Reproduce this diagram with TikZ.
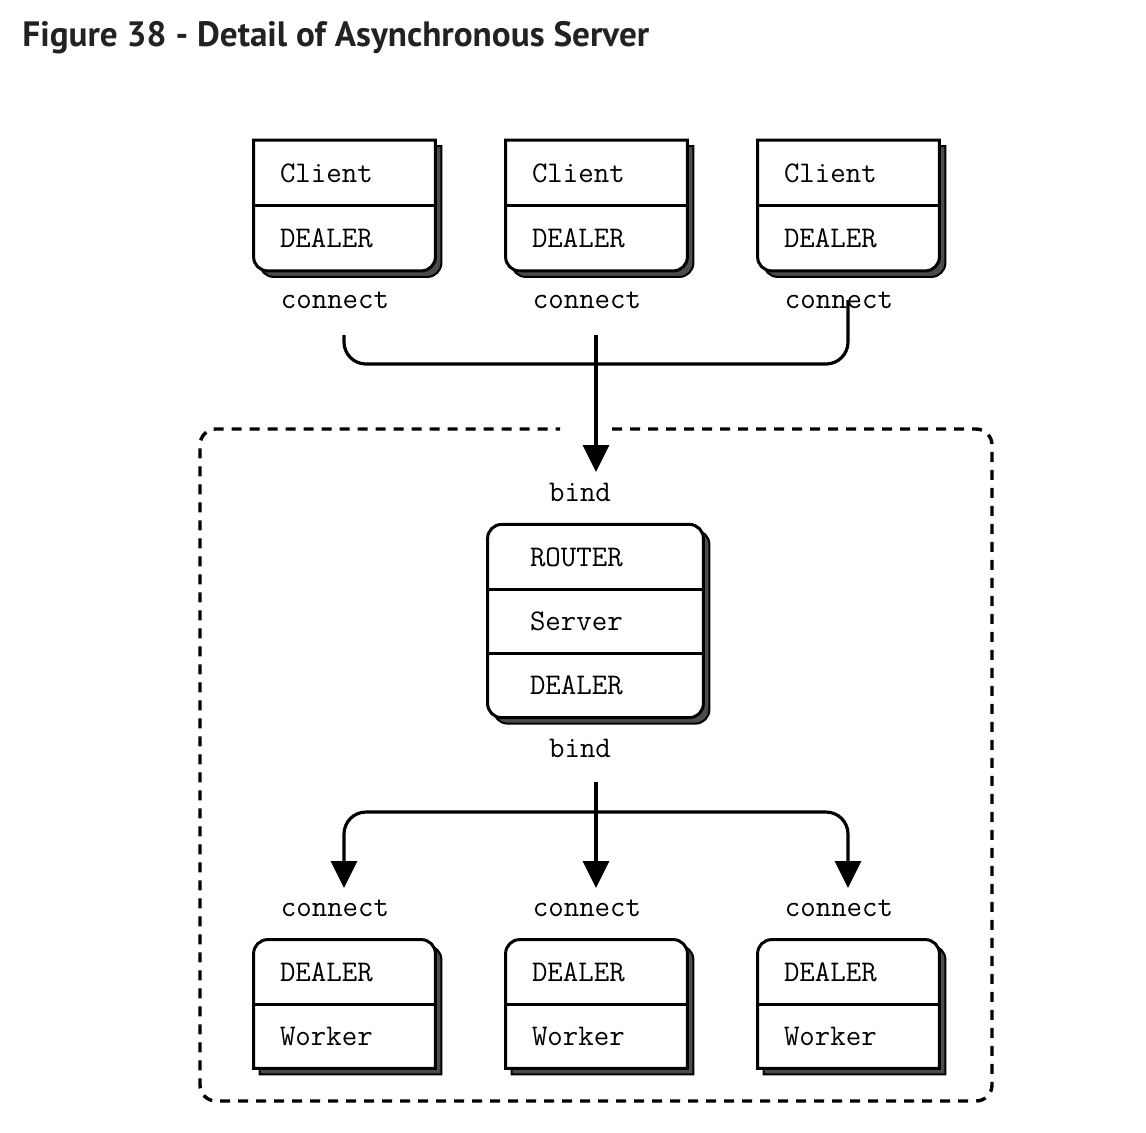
\documentclass[tikz,border=0pt]{standalone}
\usepackage{fontspec}
\usepackage{tikz}
\usetikzlibrary{positioning,arrows.meta,backgrounds}

\newfontfamily\titlefont{PT Sans}
\definecolor{titlegray}{HTML}{222222}

% box with rounded bottom corners (#1 top cell, #2 bottom cell)
\newcommand{\clientoutline}[3]{%
  \path[#3] (#1.north west) -- (#1.north east)
    -- ([yshift=7pt]#2.south east) arc[start angle=0, end angle=-90, radius=7pt]
    -- ([xshift=7pt]#2.south west) arc[start angle=270, end angle=180, radius=7pt]
    -- cycle;}
% box with rounded top corners (#1 top cell, #2 bottom cell)
\newcommand{\workeroutline}[3]{%
  \path[#3] (#2.south west) -- ([yshift=-7pt]#1.north west)
    arc[start angle=180, end angle=90, radius=7pt]
    -- ([xshift=-7pt]#1.north east) arc[start angle=90, end angle=0, radius=7pt]
    -- (#2.south east) -- cycle;}

\begin{document}
\begin{tikzpicture}[
    x=0.5pt, y=-0.5pt,
    cell/.style={minimum width=90.5pt, minimum height=32.5pt, text width=64.5pt,
      inner xsep=13pt, inner ysep=0pt, align=left, font=\ttfamily\fontsize{15}{18}\selectfont},
    servercell/.style={cell, minimum width=107.5pt, minimum height=32.2pt, text width=65.5pt, inner xsep=21pt},
    workercell/.style={cell, minimum height=32pt},
    sockettext/.style={font=\ttfamily\fontsize{15}{18}\selectfont, inner sep=0pt, anchor=base},
    boxline/.style={draw=black, line width=1.5pt, fill=white},
    shadowbox/.style={draw=black, line width=1pt, fill=black!70, transform canvas={shift={(3pt,-3pt)}}},
    divider/.style={draw, line width=1.5pt},
    wire/.style={draw, line width=1.6pt},
    tip/.style={-{Triangle[length=13.5pt, width=13pt]}},
    frame/.style={draw, line width=1.7pt, dash pattern=on 5pt off 4pt, rounded corners=8pt}
]
\useasboundingbox (0,0) rectangle (1146,1132);

% Title
\node[anchor=base west, inner sep=0pt, text=titlegray, font=\titlefont\bfseries\fontsize{17.6}{20}\selectfont] (title) at (22,46) {Figure 38 - Detail of Asynchronous Server};

% Client boxes
\node[cell] (client1) at (344.5,173) {Client};
\node[cell] (cdealer1) at (344.5,238) {DEALER};
\node[cell] (client2) at (596.5,173) {Client};
\node[cell] (cdealer2) at (596.5,238) {DEALER};
\node[cell] (client3) at (848.5,173) {Client};
\node[cell] (cdealer3) at (848.5,238) {DEALER};

% Server box
\node[servercell] (router) at (595.5,557) {ROUTER};
\node[servercell] (server) at (595.5,621) {Server};
\node[servercell] (sdealer) at (595.5,685) {DEALER};

% Worker boxes
\node[workercell] (wdealer1) at (344.5,972) {DEALER};
\node[workercell] (worker1) at (344.5,1036) {Worker};
\node[workercell] (wdealer2) at (596.5,972) {DEALER};
\node[workercell] (worker2) at (596.5,1036) {Worker};
\node[workercell] (wdealer3) at (848.5,972) {DEALER};
\node[workercell] (worker3) at (848.5,1036) {Worker};

% Socket labels
\node[sockettext] (conn1) at (335,308) {connect};
\node[sockettext] (conn2) at (587,308) {connect};
\node[sockettext] (conn3) at (839,308) {connect};
\node[sockettext] (bind1) at (580,501) {bind};
\node[sockettext] (bind2) at (580,757) {bind};
\node[sockettext] (conn4) at (335,916) {connect};
\node[sockettext] (conn5) at (587,916) {connect};
\node[sockettext] (conn6) at (839,916) {connect};

% Outlines and shadows
\begin{scope}[on background layer]
  \clientoutline{client1}{cdealer1}{shadowbox}
  \clientoutline{client1}{cdealer1}{boxline}
  \clientoutline{client2}{cdealer2}{shadowbox}
  \clientoutline{client2}{cdealer2}{boxline}
  \clientoutline{client3}{cdealer3}{shadowbox}
  \clientoutline{client3}{cdealer3}{boxline}
  \path[shadowbox, rounded corners=7pt] (router.north west) rectangle (sdealer.south east);
  \path[boxline, rounded corners=7pt] (router.north west) rectangle (sdealer.south east);
  \workeroutline{wdealer1}{worker1}{shadowbox}
  \workeroutline{wdealer1}{worker1}{boxline}
  \workeroutline{wdealer2}{worker2}{shadowbox}
  \workeroutline{wdealer2}{worker2}{boxline}
  \workeroutline{wdealer3}{worker3}{shadowbox}
  \workeroutline{wdealer3}{worker3}{boxline}
\end{scope}

% Cell dividers
\draw[divider] (client1.south west) -- (client1.south east);
\draw[divider] (client2.south west) -- (client2.south east);
\draw[divider] (client3.south west) -- (client3.south east);
\draw[divider] (router.south west) -- (router.south east);
\draw[divider] (server.south west) -- (server.south east);
\draw[divider] (wdealer1.south west) -- (wdealer1.south east);
\draw[divider] (wdealer2.south west) -- (wdealer2.south east);
\draw[divider] (wdealer3.south west) -- (wdealer3.south east);

% Clients to server
\coordinate (up1) at (344,335);
\coordinate (up2) at (596,335);
\coordinate (up3) at (848,300);
\coordinate (bus) at (596,364);
\coordinate (rin) at (596,472);
\draw[wire, rounded corners=11pt] (up1) |- (bus) -| (up3);
\draw[wire, tip] (up2) -- (rin);

% Server to workers
\coordinate (rout) at (596,782);
\coordinate (hub) at (596,812);
\coordinate (win1) at (344,888);
\coordinate (win2) at (596,888);
\coordinate (win3) at (848,888);
\draw[wire, tip] (rout) -- (win2);
\draw[wire, tip, rounded corners=11pt] (hub) -| (win1);
\draw[wire, tip, rounded corners=11pt] (hub) -| (win3);

% Dashed frame round the server side
\draw[frame] (612,429) -| (992,1101) -| (200,429) -- (560,429);

\end{tikzpicture}
\end{document}
